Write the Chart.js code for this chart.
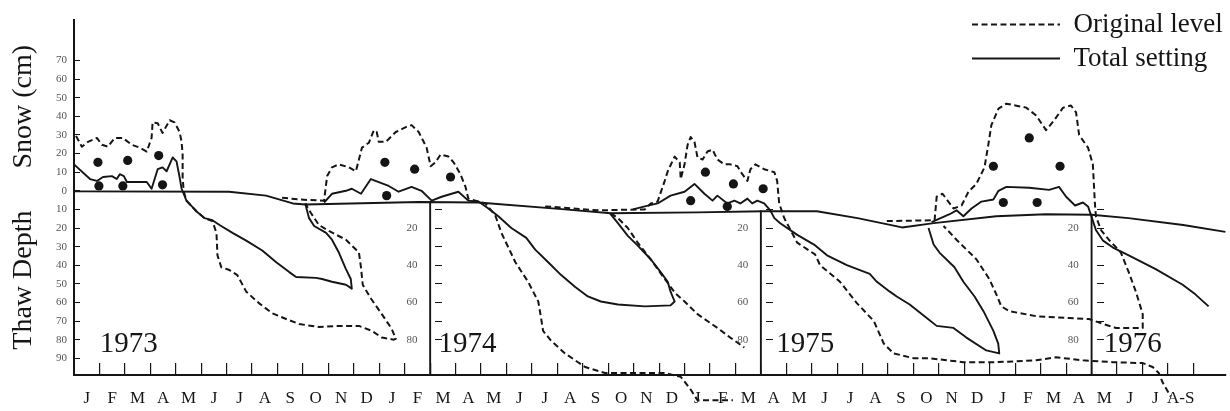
<!DOCTYPE html>
<html>
<head>
<meta charset="utf-8">
<script src="https://cdn.jsdelivr.net/npm/chart.js@4.4.1/dist/chart.umd.min.js"></script>
<style>
  html, body { margin: 0; padding: 0; background: #ffffff; }
  #wrap { width: 1230px; height: 411px; }
</style>
</head>
<body>
<div id="wrap"><canvas id="c" width="1230" height="411"></canvas></div>
<script>
// ---------- DATA (x = months since 1 Jan 1973, y = cm; snow above 0, thaw depth below 0) ----------
const monthLabels = [
  'J','F','M','A','M','J','J','A','S','O','N','D',
  'J','F','M','A','M','J','J','A','S','O','N','D',
  'J','F','M','A','M','J','J','A','S','O','N','D',
  'J','F','M','A','M','J','J','A-S',''
];
const snowTicks = [70, 60, 50, 40, 30, 20, 10, 0, -10, -20, -30, -40, -50, -60, -70, -80, -90];
const depthTicks = [-10, -20, -30, -40, -50, -60, -70, -80];
const depthLabels = [-20, -40, -60, -80];
const yearLabels = ['1973', '1974', '1975', '1976'];
const yearAxisMonths = [14, 27, 40];
const legendLabels = ['Original level', 'Total setting'];

const groundLevel = [[0,-0.3],[6.1,-0.5],[7.55,-2.6],[8.6,-6.8],[9.1,-7.4],[13.55,-6.0],[15.9,-6.3],
  [19.3,-10],[21.1,-12.1],[24.5,-11.6],[27.1,-11],[29.2,-11],[30.8,-14.7],[32.55,-19.7],[33.8,-17.4],
  [36.25,-13.7],[38.2,-12.6],[40,-12.9],[41.45,-14.7],[43.6,-18.4],[45.26,-22.1]];

const snow1973Original = [[0.08,29.5],[0.31,23.7],[0.55,26.3],[0.9,28.4],[1.1,24.7],[1.33,23.7],[1.6,28.4],
  [1.92,28.4],[2.27,24.7],[2.58,23.2],[2.86,21.1],[3.05,28.4],[3.09,36.8],[3.29,36.3],[3.48,31.1],[3.76,37.9],
  [3.95,36.8],[4.15,31.6],[4.23,26.3],[4.27,19.5],[4.27,7.4],[4.31,0]];
const thaw1973Original = [[4.42,-5.3],[4.82,-11.1],[5.13,-14.7],[5.44,-16.3],[5.6,-22.6],[5.64,-34.7],[5.79,-41.1],
  [6.11,-42.6],[6.42,-45.3],[6.77,-54.2],[7.28,-60.5],[7.79,-65.8],[8.34,-68.9],[8.85,-71.6],[9.63,-73.2],
  [10.41,-72.6],[11.2,-72.6],[11.71,-75.3],[12.1,-78.9],[12.57,-80],[12.65,-79.5],[12.49,-74.2],[12.1,-66.3],
  [11.67,-57.9],[11.35,-50.5],[11.28,-41.1],[11.2,-33.2],[11.08,-31.6],[10.69,-26.3],[10.02,-21.6],[9.63,-18.4],
  [9.32,-12.1],[9.16,-8.4],[9.12,-6.8]];
const snow1973Total = [[0,14.2],[0.63,6.3],[0.9,5.3],[1.14,7.4],[1.49,7.9],[1.68,6.3],[1.8,8.9],[1.96,7.9],
  [2.08,4.7],[2.86,4.7],[3.05,1.1],[3.17,6.3],[3.29,11.6],[3.48,12.6],[3.64,10.5],[3.76,14.2],[3.88,17.9],
  [4.03,15.8],[4.15,7.4],[4.23,1.1]];
const thaw1973Total = [[4.31,-1.6],[4.42,-5.3],[4.82,-11.1],[5.13,-14.7],[5.44,-15.8],[5.72,-18.4],[6.23,-22.6],
  [6.77,-26.8],[7.4,-32.1],[7.95,-38.4],[8.46,-43.7],[8.73,-46.3],[9.51,-46.8],[9.75,-47.4],[10.14,-48.9],
  [10.69,-50.5],[10.92,-52.6],[10.88,-47.4],[10.69,-42.1],[10.41,-33.2],[10.14,-26.3],[9.91,-22.6],[9.44,-18.9],
  [9.24,-14.7],[9.12,-8.4],[9.08,-6.8]];
const dots1973 = [[0.94,15.3],[2.11,16.3],[3.33,18.9],[0.98,2.6],[1.92,2.6],[3.48,3.2]];

const snow1974Original = [[8.18,-3.7],[8.85,-4.7],[9.83,-5.3],[9.95,7.9],[10.14,12.6],[10.41,14.2],[10.81,12.6],
  [11.08,10.5],[11.32,23.2],[11.59,25.8],[11.79,32.6],[11.9,31.6],[11.98,26.3],[12.26,26.3],[12.65,31.6],
  [13.04,34.2],[13.27,35.3],[13.55,31.6],[13.86,23.2],[14.02,13.2],[14.21,15.3],[14.41,19.5],[14.72,18.4],
  [14.92,15.3],[15.19,8.9],[15.39,2.1],[15.5,-4.2]];
const thaw1974Original = [[16.17,-6.8],[16.56,-13.2],[16.8,-22.6],[17.35,-38.4],[17.85,-48.9],[18.25,-59.5],
  [18.36,-68.4],[18.44,-75.3],[18.75,-80.5],[19.3,-87.4],[20.09,-94.7],[20.87,-97.9],[21.89,-97.9],[23.22,-97.9],
  [23.85,-100],[24.24,-106.8],[24.51,-112.6],[25.9,-112.6]];
const freeze1974Original = [[21.1,-12.1],[21.38,-14.7],[21.77,-20],[22.16,-27.9],[22.67,-36.8],[23.22,-47.4],
  [23.65,-55.3],[24,-59.5],[24.51,-66.3],[25.29,-73.7],[25.8,-78.9],[26.35,-84.2]];
const snow1974Total = [[9.83,-6.3],[10.14,-1.6],[10.69,0],[10.92,1.1],[11.28,-1.6],[11.67,6.3],[11.98,4.7],
  [12.37,2.6],[12.76,-0.5],[13.27,2.1],[13.66,0],[14.06,-5.3],[14.45,-3.2],[15.11,-0.5],[15.5,-5.3]];
const thaw1974Total = [[15.9,-5.8],[16.29,-9.5],[16.68,-13.7],[17.19,-20],[17.78,-25.3],[18.13,-31.6],[18.64,-38.4],
  [19.15,-45.3],[19.69,-51.6],[20.2,-56.8],[20.71,-59.5],[21.38,-61.1],[22.44,-62.1],[23.45,-61.6],[23.61,-59.5],
  [23.45,-54.2],[23.34,-48.9],[23.06,-43.7],[22.67,-36.8],[22.16,-29.5],[21.77,-24.2],[21.38,-17.4],[21.07,-12.1]];
const dots1974 = [[12.22,15.3],[13.39,11.6],[14.8,7.4],[12.29,-2.6]];

const snow1975Original = [[18.52,-8.4],[20.6,-10.5],[22.44,-10],[22.67,-6.8],[22.94,-5.8],[23.22,5.3],[23.34,10.5],
  [23.61,18.4],[23.81,15.3],[23.85,6.3],[24,14.2],[24.12,24.7],[24.24,28.9],[24.39,26.3],[24.51,17.9],[24.71,16.8],
  [24.9,21.1],[25.1,22.1],[25.29,16.8],[25.57,14.2],[25.8,14.2],[26.08,13.2],[26.27,8.9],[26.47,5.3],[26.59,11.6],
  [26.78,14.2],[27.13,11.6],[27.53,10],[27.64,5.3],[27.72,-6.8]];
const thaw1975Original = [[27.92,-14.7],[28.43,-27.9],[29.13,-34.2],[29.33,-40],[30.11,-48.9],[30.78,-60.5],
  [31.44,-70],[31.83,-82.1],[32.22,-87.4],[33.01,-90],[33.63,-90],[34.96,-92.1],[36.26,-92.1],[37.82,-91.1],
  [38.61,-89.5],[39.66,-91.1],[40.84,-92.1],[42.01,-92.6],[42.4,-94.7],[42.64,-97.9],[42.8,-103.2],[43.11,-110.5]];
const snow1975Total = [[21.97,-10],[22.44,-8.4],[22.94,-6.8],[23.45,-2.6],[24,-0.5],[24.39,3.7],[24.78,-1.6],
  [25.1,-5.3],[25.29,-2.6],[25.68,-6.8],[25.96,-5.3],[26.19,-6.8],[26.47,-4.2],[26.66,-6.8],[26.86,-5.3],
  [27.13,-6.8],[27.37,-10.5],[27.53,-14.7]];
const thaw1975Total = [[27.76,-17.4],[28.43,-23.7],[29.09,-28.9],[29.6,-34.7],[30.38,-40],[31.28,-44.7],
  [31.56,-48.9],[32.07,-54.2],[32.34,-56.8],[32.85,-61.1],[33.52,-68.4],[33.91,-72.6],[34.57,-73.7],[35.08,-78.9],
  [35.86,-85.8],[36.37,-87.4],[36.33,-82.1],[36.14,-75.3],[35.75,-64.7],[35.4,-56.8],[34.96,-48.9],[34.61,-41.1],
  [34.02,-33.2],[33.79,-28.9],[33.59,-20]];
const dots1975 = [[24.82,10],[25.92,3.7],[27.09,1.1],[24.24,-5.3],[25.68,-8.4]];

const snow1976Original = [[31.95,-16.3],[33.83,-15.8],[33.91,-3.2],[34.14,-1.6],[34.57,-9.5],[34.89,-7.9],
  [35.16,-0.5],[35.47,3.7],[35.79,12.6],[35.94,24.7],[36.06,35.3],[36.34,44.2],[36.65,46.8],[37.43,44.7],
  [37.82,40.5],[38.21,32.6],[38.53,37.9],[38.88,44.7],[39.19,45.8],[39.39,42.1],[39.51,30],[39.86,23.2],
  [40.05,14.2],[40.09,3.7],[40.13,-6.8],[40.17,-13.7]];
const thaw1976Original = [[40.37,-21.1],[40.68,-26.3],[41.15,-33.2],[41.46,-43.7],[41.74,-54.2],[42.01,-66.3],
  [42.01,-73.7],[40.96,-73.7],[40.45,-71.6],[39.9,-68.9],[39.11,-68.4],[37.82,-67.4],[36.77,-64.7],[36.45,-62.1],
  [36.26,-55.8],[35.98,-47.4],[35.47,-36.8],[34.69,-26.3],[34.18,-18.9]];
const snow1976Total = [[33.71,-16.8],[34.42,-12.6],[34.69,-10.5],[34.96,-13.7],[35.28,-9.5],[35.67,-5.8],
  [36.14,-4.7],[36.34,0],[36.65,2.1],[37.55,1.6],[38.33,0.5],[38.72,2.1],[39,-3.2],[39.35,-7.9],[39.66,-6.3],
  [39.86,-8.4],[39.98,-13.2]];
const thaw1976Total = [[40.17,-21.1],[40.45,-26.8],[40.84,-30.5],[41.46,-34.7],[42.52,-42.1],[43.58,-50.5],
  [44.09,-55.8],[44.6,-62.1]];
const dots1976 = [[36.14,13.2],[37.55,28.4],[38.76,13.2],[36.53,-6.3],[37.86,-6.3]];

// ---------- STYLE / LAYOUT ----------
const FONT = 'Liberation Serif';
const INK = '#151515';
const TICK_GREY = '#555555';
const X_MIN = 0, X_MAX = 45.26, Y_MIN = -99, Y_MAX = 92;
const DASH = [6, 3.5];
const yearLabelAt = [2.15, 15.47, 28.74, 41.62];

const xy = arr => arr.map(([x, y]) => ({ x, y }));
function groundAt(m) {
  for (let i = 1; i < groundLevel.length; i++) {
    const [x0, y0] = groundLevel[i - 1], [x1, y1] = groundLevel[i];
    if (m >= x0 && m <= x1) return y0 + (y1 - y0) * (m - x0) / (x1 - x0);
  }
  return groundLevel[groundLevel.length - 1][1];
}
const CLIP = { left: 2, top: 2, right: 2, bottom: 40 };
function lineDs(label, pts, dashed) {
  return {
    label, data: xy(pts), xAxisID: 'x', yAxisID: 'y',
    borderColor: INK, backgroundColor: INK, borderWidth: dashed ? 2 : 1.9,
    borderDash: dashed ? DASH : [], pointRadius: 0, tension: 0, fill: false,
    borderJoinStyle: 'round', clip: CLIP
  };
}

const datasets = [
  lineDs('Original level', [...snow1973Original, ...thaw1973Original], true),
  lineDs('Total setting', [...snow1973Total, ...thaw1973Total], false),
  lineDs('Ground surface', groundLevel, false),
  lineDs('Original level 1974', [...snow1974Original, ...thaw1974Original], true),
  lineDs('Original level 1974 freeze', freeze1974Original, true),
  lineDs('Total setting 1974', [...snow1974Total, ...thaw1974Total], false),
  lineDs('Original level 1975', [...snow1975Original, ...thaw1975Original], true),
  lineDs('Total setting 1975', [...snow1975Total, ...thaw1975Total], false),
  lineDs('Original level 1976', [...snow1976Original, ...thaw1976Original], true),
  lineDs('Total setting 1976', [...snow1976Total, ...thaw1976Total], false),
  {
    label: 'Measurements', data: xy([...dots1973, ...dots1974, ...dots1975, ...dots1976]),
    xAxisID: 'x', yAxisID: 'y', showLine: false, pointRadius: 4.6, pointBorderWidth: 0,
    pointBackgroundColor: INK, borderColor: INK, clip: CLIP
  }
];
yearAxisMonths.forEach((m, k) => {
  datasets.push(lineDs('Depth axis ' + yearLabels[k + 1], [[m, groundAt(m)], [m, Y_MIN]], false));
});

const scales = {
  y: {
    type: 'linear', position: 'left', min: Y_MIN, max: Y_MAX,
    afterBuildTicks: s => { s.ticks = snowTicks.map(v => ({ value: v })); },
    ticks: { autoSkip: false, padding: 13, color: TICK_GREY, font: { family: FONT, size: 11 },
      callback: v => String(Math.abs(v)) },
    grid: { drawOnChartArea: false, tickLength: -6, color: INK, lineWidth: 1 },
    border: { display: true, color: INK, width: 2 },
    title: { display: true, text: 'Thaw Depth      Snow (cm)', color: INK,
      font: { family: FONT, size: 28 }, padding: { top: 7, bottom: 0 } },
    afterFit: s => { s.width = 74; }
  },
  x: {
    type: 'linear', position: 'bottom', min: X_MIN, max: X_MAX,
    afterBuildTicks: s => { s.ticks = monthLabels.map((_, i) => ({ value: i })); },
    ticks: { autoSkip: false, maxRotation: 0, minRotation: 0, labelOffset: 12.8, padding: 25,
      color: INK, font: { family: FONT, size: 17 }, callback: (v, i) => monthLabels[i] },
    grid: { drawOnChartArea: false, tickLength: -12, color: INK, lineWidth: 1.2 },
    border: { display: true, color: INK, width: 2 },
    afterFit: s => { s.height = 36; }
  },
  xYear: {
    type: 'linear', axis: 'x', position: { y: -73 }, min: X_MIN, max: X_MAX,
    afterBuildTicks: s => { s.ticks = yearLabelAt.map(v => ({ value: v })); },
    ticks: { autoSkip: false, maxRotation: 0, minRotation: 0, padding: 0, color: INK,
      font: { family: FONT, size: 29 }, callback: (v, i) => yearLabels[i] },
    grid: { display: false, drawTicks: false, drawOnChartArea: false },
    border: { display: false }
  }
};
yearAxisMonths.forEach((m, k) => {
  scales['depthLabels' + k] = {
    type: 'linear', axis: 'y', position: { x: m - 0.5 }, min: Y_MIN, max: Y_MAX,
    afterBuildTicks: s => { s.ticks = depthLabels.map(v => ({ value: v })); },
    ticks: { autoSkip: false, padding: 0, color: TICK_GREY, font: { family: FONT, size: 11 },
      callback: v => String(Math.abs(v)) },
    grid: { display: false, drawTicks: false, drawOnChartArea: false },
    border: { display: false }
  };
  scales['depthTicks' + k] = {
    type: 'linear', axis: 'y', position: { x: m + 0.2 }, min: Y_MIN, max: Y_MAX,
    afterBuildTicks: s => { s.ticks = depthTicks.map(v => ({ value: v })); },
    ticks: { autoSkip: false, padding: 0, callback: () => '' },
    grid: { display: true, drawOnChartArea: false, drawTicks: true, tickLength: -7, color: INK, lineWidth: 1 },
    border: { display: false }
  };
});

const legendPlacer = {
  id: 'legendPlacer',
  beforeDraw(chart) {
    if (chart.legend) { chart.legend.left = 965; chart.legend.top = 4; }
  }
};

new Chart(document.getElementById('c'), {
  type: 'line',
  data: { datasets },
  options: {
    responsive: false, devicePixelRatio: 1, animation: false, events: [],
    layout: { padding: { top: 12, left: 0, right: 0, bottom: 0 } },
    scales,
    plugins: {
      tooltip: { enabled: false },
      legend: {
        display: true, position: 'chartArea', align: 'start',
        labels: {
          usePointStyle: true, pointStyle: 'line', pointStyleWidth: 88, padding: 7,
          color: INK, font: { family: FONT, size: 27 },
          filter: item => legendLabels.includes(item.text),
          generateLabels: chart => Chart.defaults.plugins.legend.labels.generateLabels(chart).map(item => {
            const ds = chart.data.datasets[item.datasetIndex];
            item.lineDash = ds.borderDash;
            item.lineWidth = 2;
            item.strokeStyle = INK;
            item.fillStyle = INK;
            return item;
          })
        }
      }
    }
  },
  plugins: [legendPlacer]
});
</script>
</body>
</html>
